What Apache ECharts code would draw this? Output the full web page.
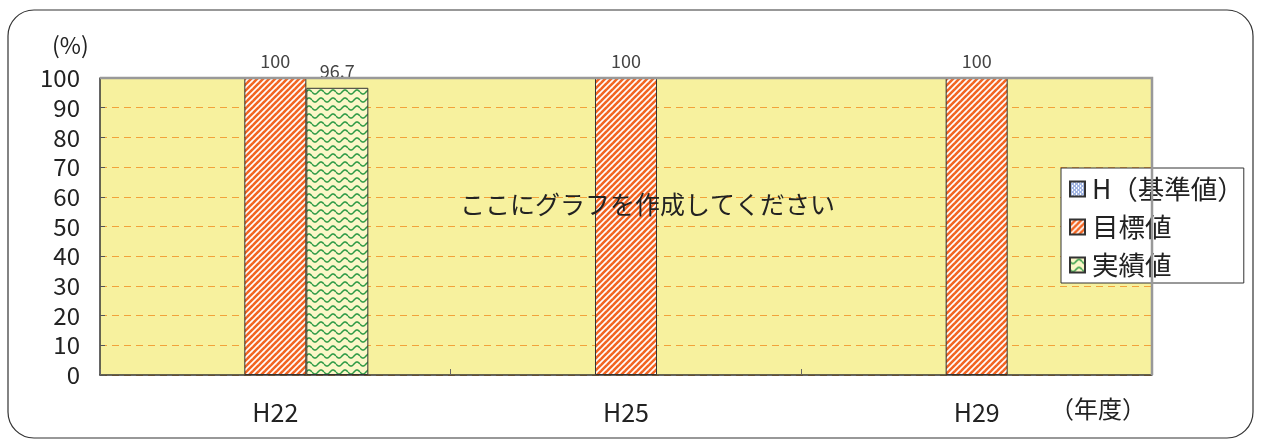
<!DOCTYPE html>
<html><head><meta charset="utf-8">
<script src="https://cdn.jsdelivr.net/npm/echarts@6/dist/echarts.min.js"></script>
<style>html,body{margin:0;padding:0;background:#fff}#c{width:1262px;height:441px}</style>
</head><body><div id="c"></div>
<script>
const categories = ['H22', 'H25', 'H29'];
const seriesNames = ['H（基準値）', '目標値', '実績値'];
const baseValues = ['-', '-', '-'];
const targetValues = [100, 100, 100];
const actualValues = [96.7, '-', '-'];
const yTicks = [0, 10, 20, 30, 40, 50, 60, 70, 80, 90, 100];

const FONT = '"Noto Sans CJK JP", "Noto Sans", sans-serif';

function stripePattern() {
  const c = document.createElement('canvas');
  c.width = 6; c.height = 6;
  const g = c.getContext('2d');
  g.fillStyle = '#ffffff'; g.fillRect(0, 0, 6, 6);
  g.strokeStyle = '#F26522'; g.lineWidth = 2.6;
  for (let k = -2; k <= 2; k++) {
    g.beginPath(); g.moveTo(k * 6 - 1, 7); g.lineTo(k * 6 + 7, -1); g.stroke();
  }
  return c;
}
function wavePattern() {
  const c = document.createElement('canvas');
  c.width = 12; c.height = 8;
  const g = c.getContext('2d');
  g.fillStyle = '#FBF7C8'; g.fillRect(0, 0, 12, 8);
  g.strokeStyle = '#2E9A46'; g.lineWidth = 1.6;
  g.beginPath();
  for (let x = 0; x <= 12; x += 0.5) {
    const y = 4 + 2 * Math.sin(x / 12 * Math.PI * 2);
    if (x === 0) g.moveTo(x, y); else g.lineTo(x, y);
  }
  g.stroke();
  return c;
}
function crossPattern() {
  const c = document.createElement('canvas');
  c.width = 4; c.height = 4;
  const g = c.getContext('2d');
  g.fillStyle = '#ffffff'; g.fillRect(0, 0, 4, 4);
  g.fillStyle = '#4A6FC8';
  g.fillRect(0, 0, 1, 1); g.fillRect(2, 2, 1, 1); g.fillRect(1, 1, 1, 1); g.fillRect(3, 3, 1, 1);
  g.fillRect(3, 1, 1, 1); g.fillRect(1, 3, 1, 1);
  return c;
}

const chart = echarts.init(document.getElementById('c'), null, { renderer: 'canvas' });
const labelStyle = { show: true, position: 'top', distance: 8, fontSize: 18, color: '#444', fontFamily: FONT };

chart.setOption({
  animation: false,
  textStyle: { fontFamily: FONT },
  grid: { left: 100, right: 110, top: 78, bottom: 66, show: true, backgroundColor: '#F7F19E', borderWidth: 0 },
  legend: {
    orient: 'vertical', left: 1061, top: 168,
    data: seriesNames, icon: 'rect',
    itemWidth: 15, itemHeight: 15, itemGap: 10,
    backgroundColor: '#fff', borderColor: '#333', borderWidth: 1,
    padding: [7, 0, 4, 8],
    textStyle: { fontSize: 26.5, lineHeight: 28, color: '#222', fontFamily: FONT, padding: [0, 0, 0, 2] }
  },
  xAxis: {
    type: 'category', data: categories,
    axisLine: { lineStyle: { color: '#333', width: 1.5 } },
    axisTick: { show: true, inside: true, length: 6, lineStyle: { color: '#666' } },
    axisLabel: { fontSize: 25, color: '#222', margin: 25, fontFamily: FONT },
    splitLine: { show: false }
  },
  yAxis: {
    type: 'value', min: 0, max: 100, interval: 10,
    axisLine: { show: true, lineStyle: { color: '#333', width: 1.5 } },
    axisTick: { show: true, inside: true, length: 5, lineStyle: { color: '#555' } },
    axisLabel: { fontSize: 24, color: '#222', margin: 20, fontFamily: FONT,
      formatter: v => yTicks.includes(v) ? String(v) : '' },
    splitLine: { show: true, lineStyle: { color: '#F2A23A', type: [7, 5], width: 1 } }
  },
  graphic: [
    { type: 'rect', shape: { x: 8, y: 10, width: 1245, height: 428, r: 26 }, style: { fill: 'none', stroke: '#333', lineWidth: 1.2 }, z: 100, silent: true },
    { type: 'polyline', shape: { points: [[100, 78], [1152, 78], [1152, 375]] }, style: { stroke: '#999', lineWidth: 2.5, fill: 'none' }, z: 100 },
    { type: 'text', left: 52, top: 34, style: { text: '(%)', fontSize: 23, fill: '#222', fontFamily: FONT }, z: 100 },
    { type: 'text', left: 1050, top: 397, style: { text: '（年度）', fontSize: 24, fill: '#222', fontFamily: FONT }, z: 100 },
    { type: 'text', left: 460, top: 192, style: { text: 'ここにグラフを作成してください', fontSize: 25, fill: '#222', fontFamily: FONT }, z: 100 }
  ],
  series: [
    { name: seriesNames[0], type: 'bar', data: baseValues, barWidth: 62, barGap: '0%',
      itemStyle: { color: { image: crossPattern(), repeat: 'repeat' }, borderColor: '#333', borderWidth: 1 } },
    { name: seriesNames[1], type: 'bar', data: targetValues, barWidth: 62, barGap: '0%',
      itemStyle: { color: { image: stripePattern(), repeat: 'repeat' }, borderColor: '#333', borderWidth: 1 },
      label: labelStyle },
    { name: seriesNames[2], type: 'bar', data: actualValues, barWidth: 62, barGap: '0%',
      itemStyle: { color: { image: wavePattern(), repeat: 'repeat' }, borderColor: '#333', borderWidth: 1 },
      label: labelStyle }
  ]
});
</script></body></html>
